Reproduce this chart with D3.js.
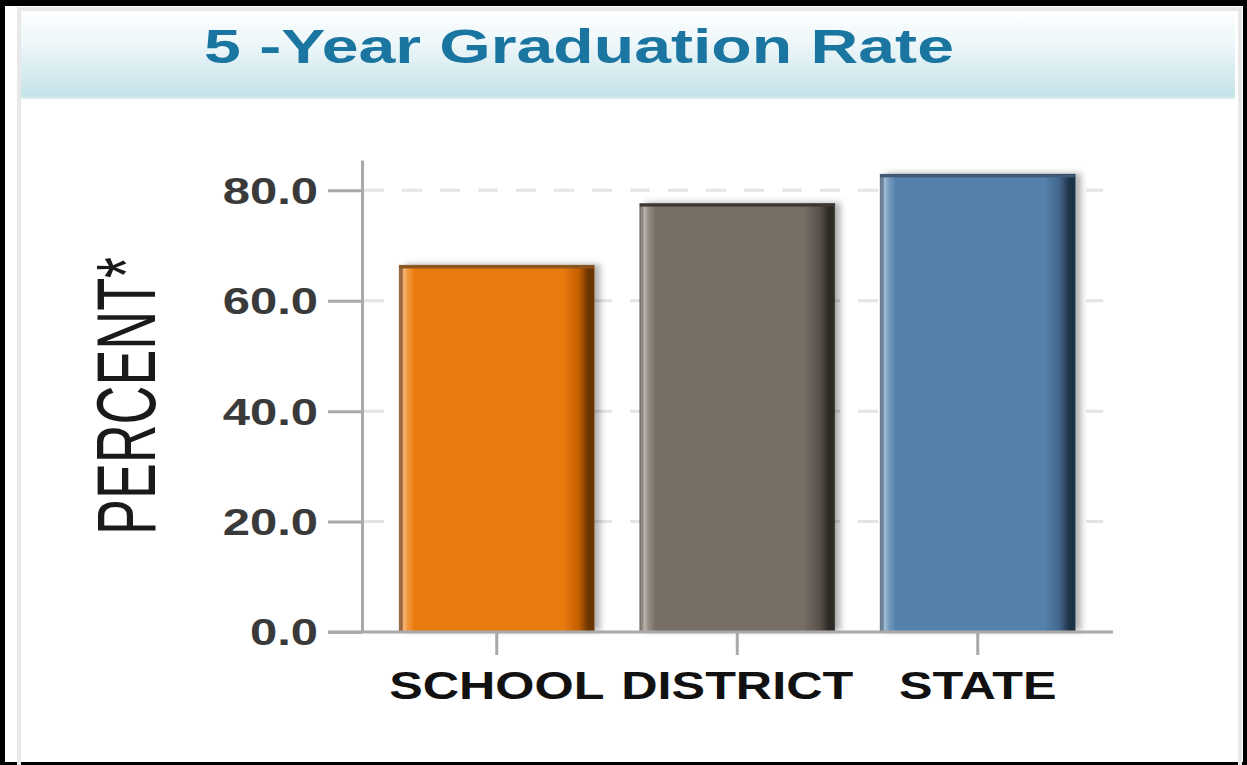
<!DOCTYPE html>
<html>
<head>
<meta charset="utf-8">
<script src="https://cdn.jsdelivr.net/npm/d3@7"></script>
<style>
  html, body { margin: 0; padding: 0; background: #000; }
  svg { display: block; }
</style>
</head>
<body>
<svg id="chart" width="1247" height="765"></svg>
<script>
// ---- data ----
const categories = ["SCHOOL", "DISTRICT", "STATE"];
const values = [66.4, 77.6, 82.9];
const tickValues = [0, 20, 40, 60, 80];
const tickLabels = ["0.0", "20.0", "40.0", "60.0", "80.0"];
const titleText = "5 -Year Graduation Rate";
const yLabel = "PERCENT*";

// ---- styles ----
const palettes = [
  { border: "#9c6a3e", light: "#f7b878", lightish: "#f0963a", base: "#e97a0b", darkish: "#c45f03", dark: "#6b3400", top: "#8c5620" },
  { border: "#8f8881", light: "#bdb7b1", lightish: "#958c84", base: "#776e66", darkish: "#5a524b", dark: "#2e2a26", top: "#3f3832" },
  { border: "#6f8499", light: "#a3bfd8", lightish: "#7499bd", base: "#5581ab", darkish: "#42668a", dark: "#1f3247", top: "#3e5c7a" }
];
const W = 1247, H = 765;
const plot = { left: 362, right: 1113, top: 160, bottom: 632 };

const svg = d3.select("#chart");
const defs = svg.append("defs");

// stretch helper (the reference text is horizontally widened)
function stretch(sel, sx) {
  sel.each(function () {
    const w = this.getComputedTextLength();
    d3.select(this).attr("textLength", w * sx).attr("lengthAdjust", "spacingAndGlyphs");
  });
}

// ---- frame ----
svg.append("rect").attr("x", 0).attr("y", 0).attr("width", W).attr("height", H).attr("fill", "#000");
svg.append("rect").attr("x", 5).attr("y", 6).attr("width", 1238).attr("height", 756).attr("fill", "#fff");
// panel borders
svg.append("rect").attr("x", 19).attr("y", 9).attr("width", 1221).attr("height", 770)
  .attr("fill", "none").attr("stroke", "#e8e8e8").attr("stroke-width", 4);

// header gradient
const hg = defs.append("linearGradient").attr("id", "hdr").attr("x1", 0).attr("y1", 0).attr("x2", 0).attr("y2", 1);
hg.append("stop").attr("offset", "0%").attr("stop-color", "#fdfeff");
hg.append("stop").attr("offset", "35%").attr("stop-color", "#eef7f9");
hg.append("stop").attr("offset", "100%").attr("stop-color", "#c3e2e9");
svg.append("rect").attr("x", 21).attr("y", 12).attr("width", 1214).attr("height", 87).attr("fill", "url(#hdr)");
svg.append("rect").attr("x", 21).attr("y", 97).attr("width", 1214).attr("height", 2).attr("fill", "#d6ecf0");

const title = svg.append("text").text(titleText)
  .attr("x", 204).attr("y", 63)
  .attr("font-family", "Liberation Sans, Arial, sans-serif")
  .attr("font-weight", "bold").attr("font-size", 49)
  .attr("fill", "#1a76a0");
stretch(title, 1.35);

// ---- scales ----
const x = d3.scaleBand().domain(categories).range([376.5, 1098]).paddingInner(0.19).paddingOuter(0.095);
const y = d3.scaleLinear().domain([0, 85.5]).range([plot.bottom, plot.top]);

// gridlines
svg.append("g").selectAll("line").data(tickValues.filter(d => d > 0)).join("line")
  .attr("x1", plot.left + 2).attr("x2", 1103)
  .attr("y1", d => y(d)).attr("y2", d => y(d))
  .attr("stroke", "#e4e4e4").attr("stroke-width", 3).attr("stroke-dasharray", "20,18");

// bar gradients
palettes.forEach((p, i) => {
  const g = defs.append("linearGradient").attr("id", "bar" + i).attr("x1", 0).attr("y1", 0).attr("x2", 1).attr("y2", 0);
  [["0%", p.border], ["1.5%", p.border], ["2.2%", p.light], ["4.5%", p.lightish], ["8%", p.base],
   ["84%", p.base], ["92%", p.darkish], ["97%", p.dark], ["100%", p.dark]]
    .forEach(([o, c]) => g.append("stop").attr("offset", o).attr("stop-color", c));
});
const flt = defs.append("filter").attr("id", "shadow").attr("x", "-10%").attr("y", "-10%").attr("width", "130%").attr("height", "120%");
flt.append("feDropShadow").attr("dx", 6).attr("dy", -1).attr("stdDeviation", 3)
  .attr("flood-color", "#000").attr("flood-opacity", 0.3);

// bars
const bars = svg.append("g").selectAll("g").data(values).join("g");
bars.append("rect")
  .attr("x", (d, i) => x(categories[i]))
  .attr("y", d => y(d))
  .attr("width", x.bandwidth())
  .attr("height", d => y(0) - y(d))
  .attr("fill", (d, i) => `url(#bar${i})`)
  .attr("filter", "url(#shadow)");
bars.append("rect")
  .attr("x", (d, i) => x(categories[i]))
  .attr("y", d => y(d))
  .attr("width", x.bandwidth())
  .attr("height", 3)
  .attr("fill", (d, i) => palettes[i].top);
bars.append("rect")
  .attr("x", (d, i) => x(categories[i]))
  .attr("y", d => y(d))
  .attr("width", x.bandwidth())
  .attr("height", d => y(0) - y(d))
  .attr("fill", "none")
  .attr("stroke", (d, i) => palettes[i].dark)
  .attr("stroke-opacity", 0.45)
  .attr("stroke-width", 1.2);

// y axis
const yAxis = svg.append("g").attr("transform", `translate(${plot.left},0)`)
  .call(d3.axisLeft(y).tickValues(tickValues).tickFormat((d, i) => tickLabels[i])
    .tickSize(34).tickSizeOuter(0).tickPadding(10));
yAxis.select(".domain").attr("stroke", "#a9a9a9").attr("stroke-width", 3);
yAxis.selectAll(".tick line").attr("stroke", "#a9a9a9").attr("stroke-width", 3);
yAxis.selectAll(".tick text")
  .attr("font-family", "Liberation Sans, Arial, sans-serif")
  .attr("font-weight", "bold").attr("font-size", 36)
  .attr("fill", "#3a3a3a").attr("dy", "0.36em");
stretch(yAxis.selectAll(".tick text"), 1.36);

// x axis
svg.append("line")
  .attr("x1", plot.left - 34).attr("x2", plot.right)
  .attr("y1", y(0)).attr("y2", y(0))
  .attr("stroke", "#a9a9a9").attr("stroke-width", 3);
const xAxis = svg.append("g").attr("transform", `translate(0,${y(0)})`)
  .call(d3.axisBottom(x).tickSize(23).tickSizeOuter(0).tickPadding(16));
xAxis.select(".domain").remove();
xAxis.selectAll(".tick line").attr("stroke", "#a9a9a9").attr("stroke-width", 3);
xAxis.selectAll(".tick text")
  .attr("font-family", "Liberation Sans, Arial, sans-serif")
  .attr("font-weight", "bold").attr("font-size", 39)
  .attr("fill", "#111").attr("dy", "0.71em");
stretch(xAxis.selectAll(".tick text"), 1.29);

// y label
svg.append("text").text(yLabel)
  .attr("transform", "translate(155,396) rotate(-90)")
  .attr("text-anchor", "middle")
  .attr("font-family", "Liberation Sans, Arial, sans-serif")
  .attr("font-size", 84)
  .attr("fill", "#1a1a1a")
  .attr("textLength", 278).attr("lengthAdjust", "spacingAndGlyphs");
</script>
</body>
</html>
